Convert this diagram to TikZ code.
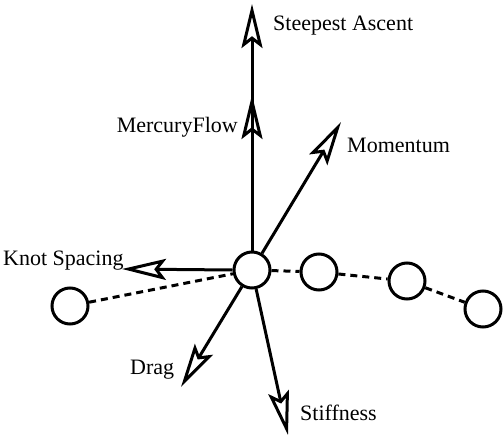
\documentclass[tikz,border=0pt]{standalone}
\usepackage{fontspec}
\setmainfont{Liberation Serif}
\usetikzlibrary{arrows.meta}
\begin{document}
\begin{tikzpicture}[x=1pt,y=-1pt,
  knot/.style={circle,draw,line width=3pt,minimum size=36pt,inner sep=0pt},
  link/.style={line width=3pt,dash pattern=on 7pt off 5pt},
  vec/.style={line width=3pt,-{Stealth[open,length=44pt,width=21pt,inset=8pt,line width=3pt]}},
  lbl/.style={inner sep=0pt,font=\fontsize{22}{26}\selectfont}]
\useasboundingbox (0,0) rectangle (504,437);
\node[knot] (c1) at (70,306) {};
\node[knot] (c0) at (252,270) {};
\node[knot] (c2) at (319,272) {};
\node[knot] (c3) at (407,281) {};
\node[knot] (c4) at (483,309) {};
\draw[link] (c1) -- (c0);
\draw[link] (c0) -- (c2);
\draw[link] (c2) -- (c3);
\draw[link] (c3) -- (c4);
\coordinate (tSA) at (252,4);
\coordinate (tMF) at (252,95);
\coordinate (tMo) at (341,122);
\coordinate (tKS) at (122,269);
\coordinate (tDr) at (181,387);
\coordinate (tSt) at (288,435);
\draw[vec] (c0) -- (tSA);
\draw[vec] (c0) -- (tMF);
\draw[vec] (c0) -- (tMo);
\draw[vec] (c0.180) -- (tKS);
\draw[vec] (c0) -- (tDr);
\draw[vec] (c0) -- (tSt);
\node[lbl,anchor=base west] (lSA) at (273,30) {Steepest Ascent};
\node[lbl,anchor=base east] (lMF) at (238,132) {MercuryFlow};
\node[lbl,anchor=base west] (lMo) at (347,152) {Momentum};
\node[lbl,anchor=base west] (lKS) at (3,265) {Knot Spacing};
\node[lbl,anchor=base west] (lDr) at (130,374) {Drag};
\node[lbl,anchor=base west] (lSt) at (300,420) {Stiffness};
\end{tikzpicture}
\end{document}
